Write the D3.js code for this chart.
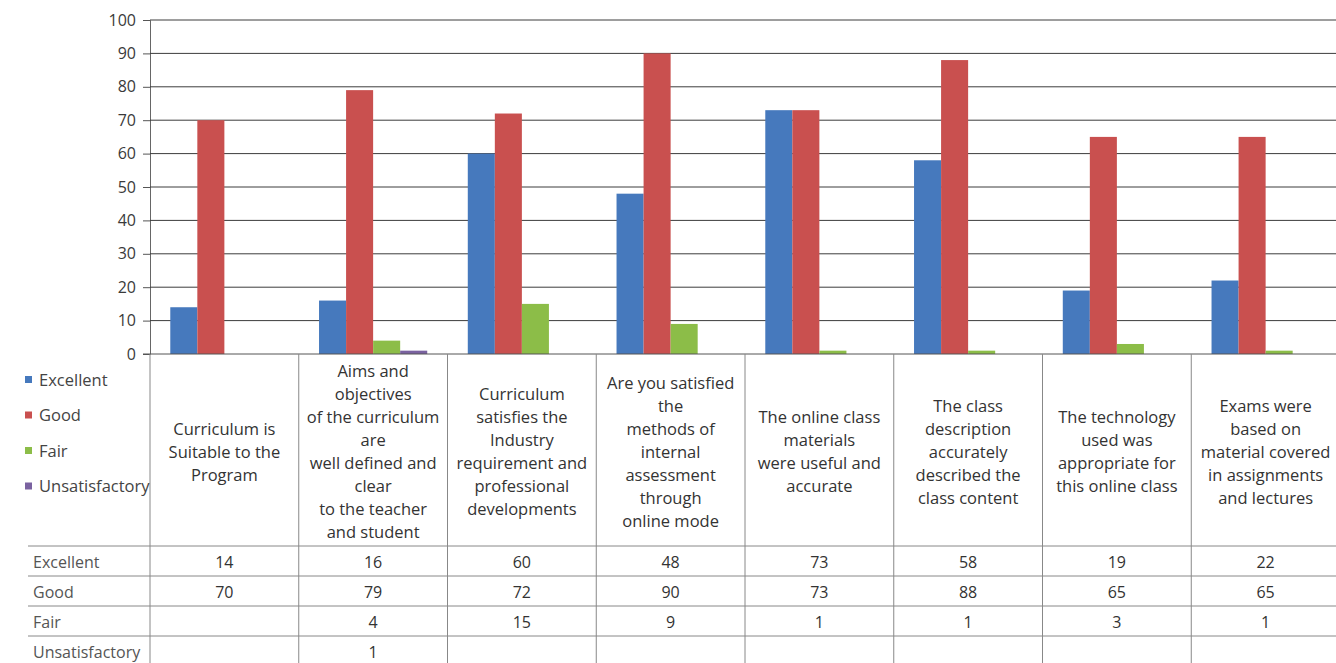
<!DOCTYPE html>
<html>
<head>
<meta charset="utf-8">
<script src="https://cdn.jsdelivr.net/npm/d3@7"></script>
<style>
  body { margin: 0; background: #fff; }
  svg { font-family: "Open Sans", Lato, sans-serif; }
</style>
</head>
<body>
<svg id="chart" width="1336" height="663"></svg>
<script>
// categories (header lines as printed in the table)
var categories = [
    ["Curriculum is", "Suitable to the", "Program"],
    ["Aims and", "objectives", "of the curriculum", "are", "well defined and", "clear", "to the teacher", "and student"],
    ["Curriculum", "satisfies the", "Industry", "requirement and", "professional", "developments"],
    ["Are you satisfied", "the", "methods of", "internal", "assessment", "through", "online mode"],
    ["The online class", "materials", "were useful and", "accurate"],
    ["The class", "description", "accurately", "described the", "class content"],
    ["The technology", "used was", "appropriate for", "this online class"],
    ["Exams were", "based on", "material covered", "in assignments", "and lectures"]
];
var seriesNames = ["Excellent", "Good", "Fair", "Unsatisfactory"];
var excellent = [14, 16, 60, 48, 73, 58, 19, 22];
var good = [70, 79, 72, 90, 73, 88, 65, 65];
var fair = [null, 4, 15, 9, 1, 1, 3, 1];
var unsatisfactory = [null, 1, null, null, null, null, null, null];
var yTicks = [0, 10, 20, 30, 40, 50, 60, 70, 80, 90, 100];

(function () {
    var series = [excellent, good, fair, unsatisfactory];
    var colors = ["#4679bd", "#c9504f", "#8cbd48", "#7a62a0"];

    var svg = d3.select("#chart");
    var left = 150, right = 1340, top = 20, base = 354;
    var rowH = 30, headBottom = 546;

    var x0 = d3.scaleBand().domain(d3.range(categories.length)).range([left, right]);
    var cw = x0.bandwidth();
    var gap = cw * 0.75 / 5.5;
    var x1 = d3.scaleBand().domain(d3.range(series.length)).range([gap, cw - gap]);
    var y = d3.scaleLinear().domain([0, 100]).range([base, top]);

    // gridlines + y axis
    var yAxis = d3.axisLeft(y).tickValues(yTicks).tickSize(7).tickPadding(7);
    var ga = svg.append("g").attr("transform", "translate(" + left + ",0)").call(yAxis);
    ga.attr("font-size", 16).attr("font-family", "'Open Sans', sans-serif");
    ga.select(".domain").attr("stroke", "#666");
    ga.selectAll(".tick line").attr("stroke", "#555");
    ga.selectAll(".tick text").attr("fill", "#3a3a3a");

    svg.append("g")
        .selectAll("line")
        .data(yTicks.filter(d => d > 0))
        .join("line")
        .attr("x1", left).attr("x2", 1336)
        .attr("y1", d => y(d)).attr("y2", d => y(d))
        .attr("stroke", "#3c3c3c").attr("stroke-width", 1);

    // bars
    var bars = [];
    series.forEach((s, si) => s.forEach((v, ci) => {
        if (v != null) bars.push({ s: si, c: ci, v: v });
    }));
    svg.append("g")
        .selectAll("rect")
        .data(bars)
        .join("rect")
        .attr("x", d => x0(d.c) + x1(d.s))
        .attr("width", x1.bandwidth())
        .attr("y", d => y(d.v))
        .attr("height", d => base - y(d.v))
        .attr("fill", d => colors[d.s]);

    // x axis line
    svg.append("line")
        .attr("x1", left - 7).attr("x2", 1336)
        .attr("y1", base).attr("y2", base)
        .attr("stroke", "#555");

    // table grid
    var tg = svg.append("g").attr("stroke", "#888").attr("stroke-width", 1);
    tg.selectAll("line.v")
        .data(d3.range(categories.length + 1))
        .join("line")
        .attr("class", "v")
        .attr("x1", d => d === categories.length ? right : x0(d))
        .attr("x2", d => d === categories.length ? right : x0(d))
        .attr("y1", base).attr("y2", 663);
    tg.selectAll("line.h")
        .data(d3.range(seriesNames.length))
        .join("line")
        .attr("class", "h")
        .attr("x1", 28).attr("x2", 1336)
        .attr("y1", d => headBottom + d * rowH)
        .attr("y2", d => headBottom + d * rowH);

    // header text
    var lineH = 23;
    var hg = svg.append("g").attr("fill", "#333").style("font-size", "16.5px").attr("text-anchor", "middle");
    categories.forEach((lines, ci) => {
        var cy = (base + headBottom) / 2 + 2;
        var y0 = cy - (lines.length - 1) * lineH / 2;
        hg.append("text")
            .attr("x", x0(ci) + cw / 2)
            .selectAll("tspan")
            .data(lines)
            .join("tspan")
            .attr("x", x0(ci) + cw / 2)
            .attr("y", (d, i) => y0 + i * lineH)
            .attr("dy", "0.35em")
            .text(d => d);
    });

    // legend
    var lg = svg.append("g").style("font-size", "16.5px").attr("fill", "#444");
    seriesNames.forEach((n, i) => {
        var ly = 380 + i * 35.5;
        lg.append("rect").attr("x", 25).attr("y", ly - 4).attr("width", 7).attr("height", 7).attr("fill", colors[i]);
        lg.append("text").attr("x", 39).attr("y", ly).attr("dy", "0.35em").text(n);
    });

    // table rows
    var rg = svg.append("g").style("font-size", "16px").attr("fill", "#333");
    seriesNames.forEach((n, si) => {
        var ry = headBottom + si * rowH + rowH / 2 + 1;
        rg.append("text").attr("x", 33).attr("y", ry).attr("dy", "0.35em").attr("fill", "#555").text(n);
        rg.append("g")
            .selectAll("text")
            .data(series[si])
            .join("text")
            .attr("x", (d, ci) => x0(ci) + cw / 2)
            .attr("y", ry).attr("dy", "0.35em")
            .attr("text-anchor", "middle")
            .text(d => d == null ? "" : d);
    });
})();
</script>
</body>
</html>
